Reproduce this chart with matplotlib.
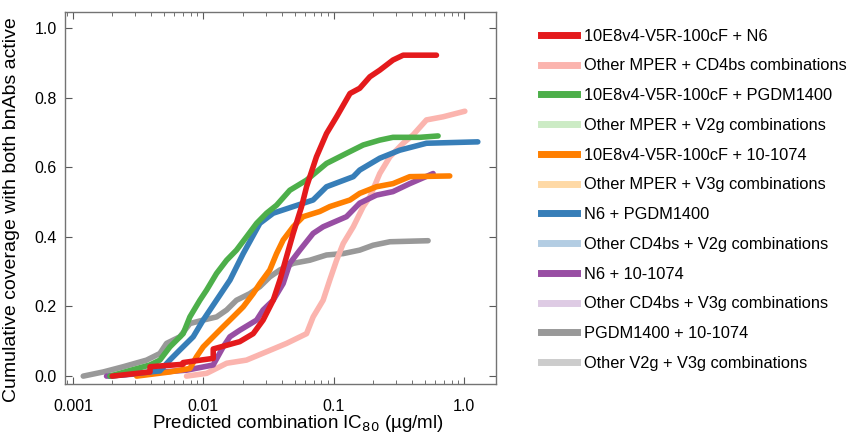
import matplotlib
matplotlib.use("Agg")
import matplotlib.pyplot as plt
from matplotlib.lines import Line2D

plt.rcParams['font.family'] = ['Liberation Sans', 'DejaVu Sans']

# ---- data (IC80 in ug/ml, cumulative coverage fraction) ----
red_x = [0.0020, 0.0039, 0.0039, 0.0070, 0.0070, 0.0119, 0.0119, 0.0190, 0.0241, 0.0287,
         0.0343, 0.0386, 0.0434, 0.0488, 0.0566, 0.0618, 0.0736, 0.0879, 0.105, 0.133,
         0.158, 0.189, 0.225, 0.284, 0.340, 0.612]
red_y = [0.0, 0.012, 0.027, 0.034, 0.039, 0.051, 0.078, 0.099, 0.122, 0.161,
         0.218, 0.276, 0.343, 0.41, 0.487, 0.544, 0.63, 0.697, 0.745, 0.812,
         0.827, 0.86, 0.879, 0.908, 0.922, 0.922]

pink_x = [0.00743, 0.0106, 0.0151, 0.0214, 0.0305, 0.0434, 0.0618, 0.0694, 0.0828, 0.0931,
          0.105, 0.118, 0.141, 0.168, 0.189, 0.225, 0.269, 0.340, 0.405, 0.513, 0.688, 1.01]
pink_y = [0.0, 0.008, 0.037, 0.046, 0.07, 0.094, 0.122, 0.17, 0.218, 0.276,
          0.333, 0.381, 0.429, 0.487, 0.515, 0.582, 0.63, 0.669, 0.693, 0.736, 0.745, 0.761]

green_x = [0.00192, 0.00389, 0.00464, 0.00554, 0.0070, 0.00788, 0.0094, 0.01058, 0.01262, 0.01508,
           0.01794, 0.0214, 0.0256, 0.0305, 0.0364, 0.046, 0.0618, 0.0879, 0.125, 0.168,
           0.225, 0.284, 0.456, 0.630]
green_y = [0.0, 0.032, 0.046, 0.084, 0.122, 0.17, 0.218, 0.247, 0.295, 0.333,
           0.362, 0.40, 0.439, 0.468, 0.491, 0.534, 0.563, 0.611, 0.64, 0.664,
           0.678, 0.686, 0.686, 0.69]

orange_x = [0.00308, 0.00554, 0.00788, 0.00887, 0.00997, 0.01189, 0.01419, 0.0169, 0.0202, 0.0241,
            0.0271, 0.0323, 0.0364, 0.0409, 0.0488, 0.0582, 0.0781, 0.0931, 0.133, 0.158,
            0.212, 0.284, 0.382, 0.774]
orange_y = [0.0, 0.012, 0.022, 0.056, 0.084, 0.113, 0.142, 0.17, 0.199, 0.237,
            0.266, 0.305, 0.352, 0.391, 0.429, 0.458, 0.473, 0.487, 0.506, 0.525,
            0.544, 0.553, 0.573, 0.575]

blue_x = [0.00192, 0.00464, 0.00553, 0.0066, 0.00836, 0.00997, 0.0126, 0.0160, 0.0202, 0.0271,
          0.0343, 0.0488, 0.0694, 0.0879, 0.141, 0.158, 0.225, 0.320, 0.513, 1.27]
blue_y = [0.0, 0.015, 0.046, 0.075, 0.113, 0.161, 0.218, 0.276, 0.352, 0.439,
          0.468, 0.487, 0.506, 0.544, 0.573, 0.592, 0.626, 0.649, 0.669, 0.673]

purple_x = [0.00181, 0.00743, 0.01189, 0.01419, 0.01596, 0.01905, 0.0256, 0.0287, 0.0343, 0.0409,
            0.046, 0.0549, 0.0694, 0.0828, 0.125, 0.158, 0.212, 0.284, 0.382, 0.577]
purple_y = [0.0, 0.017, 0.032, 0.084, 0.113, 0.132, 0.161, 0.19, 0.218, 0.266,
            0.324, 0.362, 0.41, 0.429, 0.458, 0.497, 0.52, 0.53, 0.553, 0.582]

gray_x = [0.0012, 0.00171, 0.00243, 0.00367, 0.00464, 0.00522, 0.00661, 0.00788, 0.00997, 0.01262,
          0.01508, 0.01794, 0.0227, 0.0271, 0.0323, 0.0386, 0.0488, 0.0655, 0.0879, 0.118,
          0.158, 0.200, 0.269, 0.528]
gray_y = [0.0, 0.012, 0.027, 0.046, 0.065, 0.094, 0.113, 0.151, 0.161, 0.17,
          0.19, 0.218, 0.237, 0.257, 0.285, 0.305, 0.324, 0.333, 0.348, 0.352,
          0.362, 0.376, 0.386, 0.389]

labels = ["10E8v4-V5R-100cF + N6", "Other MPER + CD4bs combinations",
          "10E8v4-V5R-100cF + PGDM1400", "Other MPER + V2g combinations",
          "10E8v4-V5R-100cF + 10-1074", "Other MPER + V3g combinations",
          "N6 + PGDM1400", "Other CD4bs + V2g combinations",
          "N6 + 10-1074", "Other CD4bs + V3g combinations",
          "PGDM1400 + 10-1074", "Other V2g + V3g combinations"]
colors = ["#e41a1c", "#fbb4ae", "#4daf4a", "#ccebc5", "#ff7f00", "#fed9a6",
          "#377eb8", "#b3cde3", "#984ea3", "#decbe4", "#999999", "#cccccc"]

fig = plt.figure(figsize=(8.5, 4.37), dpi=100)
ax = fig.add_axes([0.0765, 0.121, 0.507, 0.8515])

lw = 4.0
series = [(gray_x, gray_y, colors[10]), (pink_x, pink_y, colors[1]),
          (purple_x, purple_y, colors[8]), (orange_x, orange_y, colors[4]),
          (blue_x, blue_y, colors[6]), (green_x, green_y, colors[2]),
          (red_x, red_y, colors[0])]
for xs, ys, c in series:
    ax.plot(xs, ys, color=c, lw=lw, solid_capstyle='round', solid_joinstyle='round')

ax.set_xscale('log')
ax.set_xlim(0.00087, 1.75)
ax.set_ylim(-0.023, 1.046)
ax.set_xticks([0.001, 0.01, 0.1, 1.0])
ax.set_xticklabels(["0.001", "0.01", "0.1", "1.0"])
ax.set_yticks([0.0, 0.2, 0.4, 0.6, 0.8, 1.0])
ax.set_yticklabels(["0.0", "0.2", "0.4", "0.6", "0.8", "1.0"])
ax.tick_params(which='both', direction='in', top=True, right=True, labelsize=11.5,
               color='0.35')
ax.tick_params(which='major', length=5, pad=6)
ax.tick_params(axis='x', which='major', pad=11)
ax.tick_params(which='minor', length=3)
for s in ax.spines.values():
    s.set_color('0.45')
    s.set_linewidth(1.0)

ax.set_xlabel("Predicted combination IC$_{80}$ (\u00b5g/ml)", fontsize=13.5)
ax.set_ylabel("Cumulative coverage with both bnAbs active", fontsize=14)
ax.xaxis.set_label_coords(0.54, -0.078)
ax.yaxis.set_label_coords(-0.105, 0.47)

handles = [Line2D([], [], color=c, lw=5) for c in colors]
leg = fig.legend(handles, labels, loc='upper left', bbox_to_anchor=(0.6195, 0.968),
                 frameon=False, fontsize=11.8, handlelength=2.15, handletextpad=0.45,
                 labelspacing=0.9)

fig.savefig("out.png", dpi=100)
